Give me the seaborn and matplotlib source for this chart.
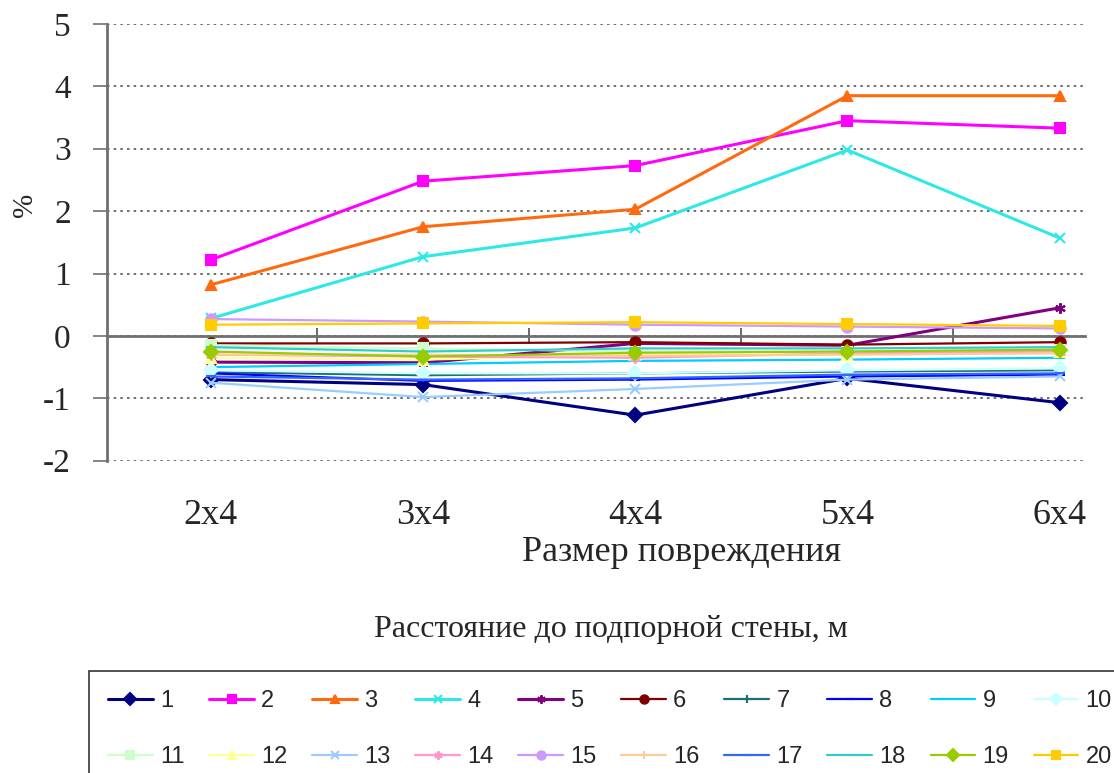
import numpy as np
import pandas as pd
import matplotlib
matplotlib.use("Agg")
import matplotlib.pyplot as plt
import seaborn as sns

# Данные
razmery = ["2x4", "3x4", "4x4", "5x4", "6x4"]
serii = [str(i) for i in range(1, 21)]

s1 = [-0.70, -0.78, -1.27, -0.68, -1.07]
s2 = [1.22, 2.48, 2.73, 3.45, 3.33]
s3 = [0.82, 1.75, 2.03, 3.85, 3.85]
s4 = [0.28, 1.27, 1.73, 2.98, 1.57]
s5 = [-0.42, -0.43, -0.12, -0.15, 0.45]
s6 = [-0.12, -0.12, -0.10, -0.14, -0.10]
s7 = [-0.58, -0.63, -0.60, -0.57, -0.55]
s8 = [-0.60, -0.72, -0.70, -0.65, -0.62]
s9 = [-0.50, -0.45, -0.40, -0.38, -0.35]
s10 = [-0.55, -0.60, -0.60, -0.55, -0.52]
s11 = [-0.15, -0.20, -0.25, -0.25, -0.22]
s12 = [-0.35, -0.38, -0.30, -0.30, -0.25]
s13 = [-0.75, -0.98, -0.85, -0.70, -0.65]
s14 = [-0.30, -0.33, -0.35, -0.28, -0.25]
s15 = [0.27, 0.23, 0.18, 0.15, 0.12]
s16 = [-0.30, -0.30, -0.32, -0.30, -0.28]
s17 = [-0.65, -0.70, -0.68, -0.62, -0.60]
s18 = [-0.18, -0.25, -0.20, -0.20, -0.18]
s19 = [-0.25, -0.33, -0.27, -0.25, -0.22]
s20 = [0.18, 0.20, 0.22, 0.19, 0.16]

znacheniya = [s1, s2, s3, s4, s5, s6, s7, s8, s9, s10,
              s11, s12, s13, s14, s15, s16, s17, s18, s19, s20]

cveta = ["#000080", "#FF00FF", "#FF6A10", "#2EE8E8", "#800080",
         "#800000", "#1E7070", "#0000FF", "#00CCFF", "#CCFFFF",
         "#CCFFCC", "#FFFF99", "#99CCFF", "#FF99CC", "#CC99FF",
         "#FFCC99", "#3366FF", "#33CCCC", "#99CC00", "#FFCC00"]
markery = ["D", "s", "^", "x", (6, 2, 0), "o", "+", "_", "_", "D",
           "s", "^", "x", (6, 2, 0), "o", "+", "_", "_", "D", "s"]

df = pd.DataFrame({
    "razmer": razmery * len(serii),
    "seriya": np.repeat(serii, len(razmery)),
    "znachenie": np.concatenate(znacheniya),
})

sns.set_style("white")
plt.rcParams["font.family"] = ["Liberation Serif", "DejaVu Serif"]
plt.rcParams["axes.unicode_minus"] = False

fig = plt.figure(figsize=(11.14, 7.73), dpi=100)
ax = fig.add_axes([0.096, 0.404, 0.878, 0.565])

for i, nazv in enumerate(serii):
    tolst = 2.2 if i < 5 else 1.6
    sns.lineplot(data=df[df["seriya"] == nazv], x="razmer", y="znachenie",
                 color=cveta[i], marker=markery[i], markersize=7.5,
                 markeredgewidth=1.5, markeredgecolor=cveta[i],
                 linewidth=tolst, label=nazv, ax=ax, zorder=3 + i * 0.01)

ax.set_ylim(-2, 5)
ax.set_xlim(-0.49, 4.12)
ax.set_yticks(range(-2, 6))
ax.yaxis.grid(True, linestyle=(0, (1.5, 2.5)), color="#555555", linewidth=1.2)
ax.xaxis.grid(False)

for s in ["top", "right"]:
    ax.spines[s].set_visible(False)
ax.spines["left"].set_color("#707070")
ax.spines["left"].set_linewidth(2)
ax.spines["bottom"].set_position(("data", 0))
ax.spines["bottom"].set_color("#707070")
ax.spines["bottom"].set_linewidth(2)
ax.spines["bottom"].set_zorder(2.5)

ax.tick_params(axis="y", left=True, direction="out", length=10, width=1.2,
               color="#707070", labelsize=24, pad=16)
ax.tick_params(axis="x", which="major", bottom=False, labelsize=26, pad=114)
ax.set_xticks(np.arange(0.5, 4, 1), minor=True)
ax.tick_params(axis="x", which="minor", bottom=True, direction="inout",
               length=12, width=1.2, color="#505050")

ax.set_xlabel("Размер повреждения", fontsize=26)
ax.xaxis.set_label_coords(0.588, -0.172)
ax.set_ylabel("%", fontsize=21)
ax.yaxis.set_label_coords(-0.070, 0.586)

fig.text(0.548, 0.185, "Расстояние до подпорной стены, м",
         ha="center", va="center", fontsize=23)

ax.get_legend().remove()
ruchki, metki = ax.get_legend_handles_labels()
# легенда заполняется по столбцам, поэтому переставляем элементы по строкам
poryadok = [j for k in range(10) for j in (k, k + 10)]
ruchki = [ruchki[j] for j in poryadok]
metki = [metki[j] for j in poryadok]
leg = fig.legend(ruchki, metki, loc="upper left",
                 bbox_to_anchor=(0.0799, 0.132, 0.935, 0.0),
                 mode="expand", ncol=10, frameon=True, markerscale=0.8,
                 fancybox=False, edgecolor="black", handlelength=1.9,
                 handletextpad=0.3, borderpad=0.8, labelspacing=1.45,
                 borderaxespad=0,
                 prop={"family": ["Liberation Sans", "DejaVu Sans"], "size": 17})
leg.get_frame().set_linewidth(1.2)

fig.savefig("out.png", dpi=100, facecolor="white")
